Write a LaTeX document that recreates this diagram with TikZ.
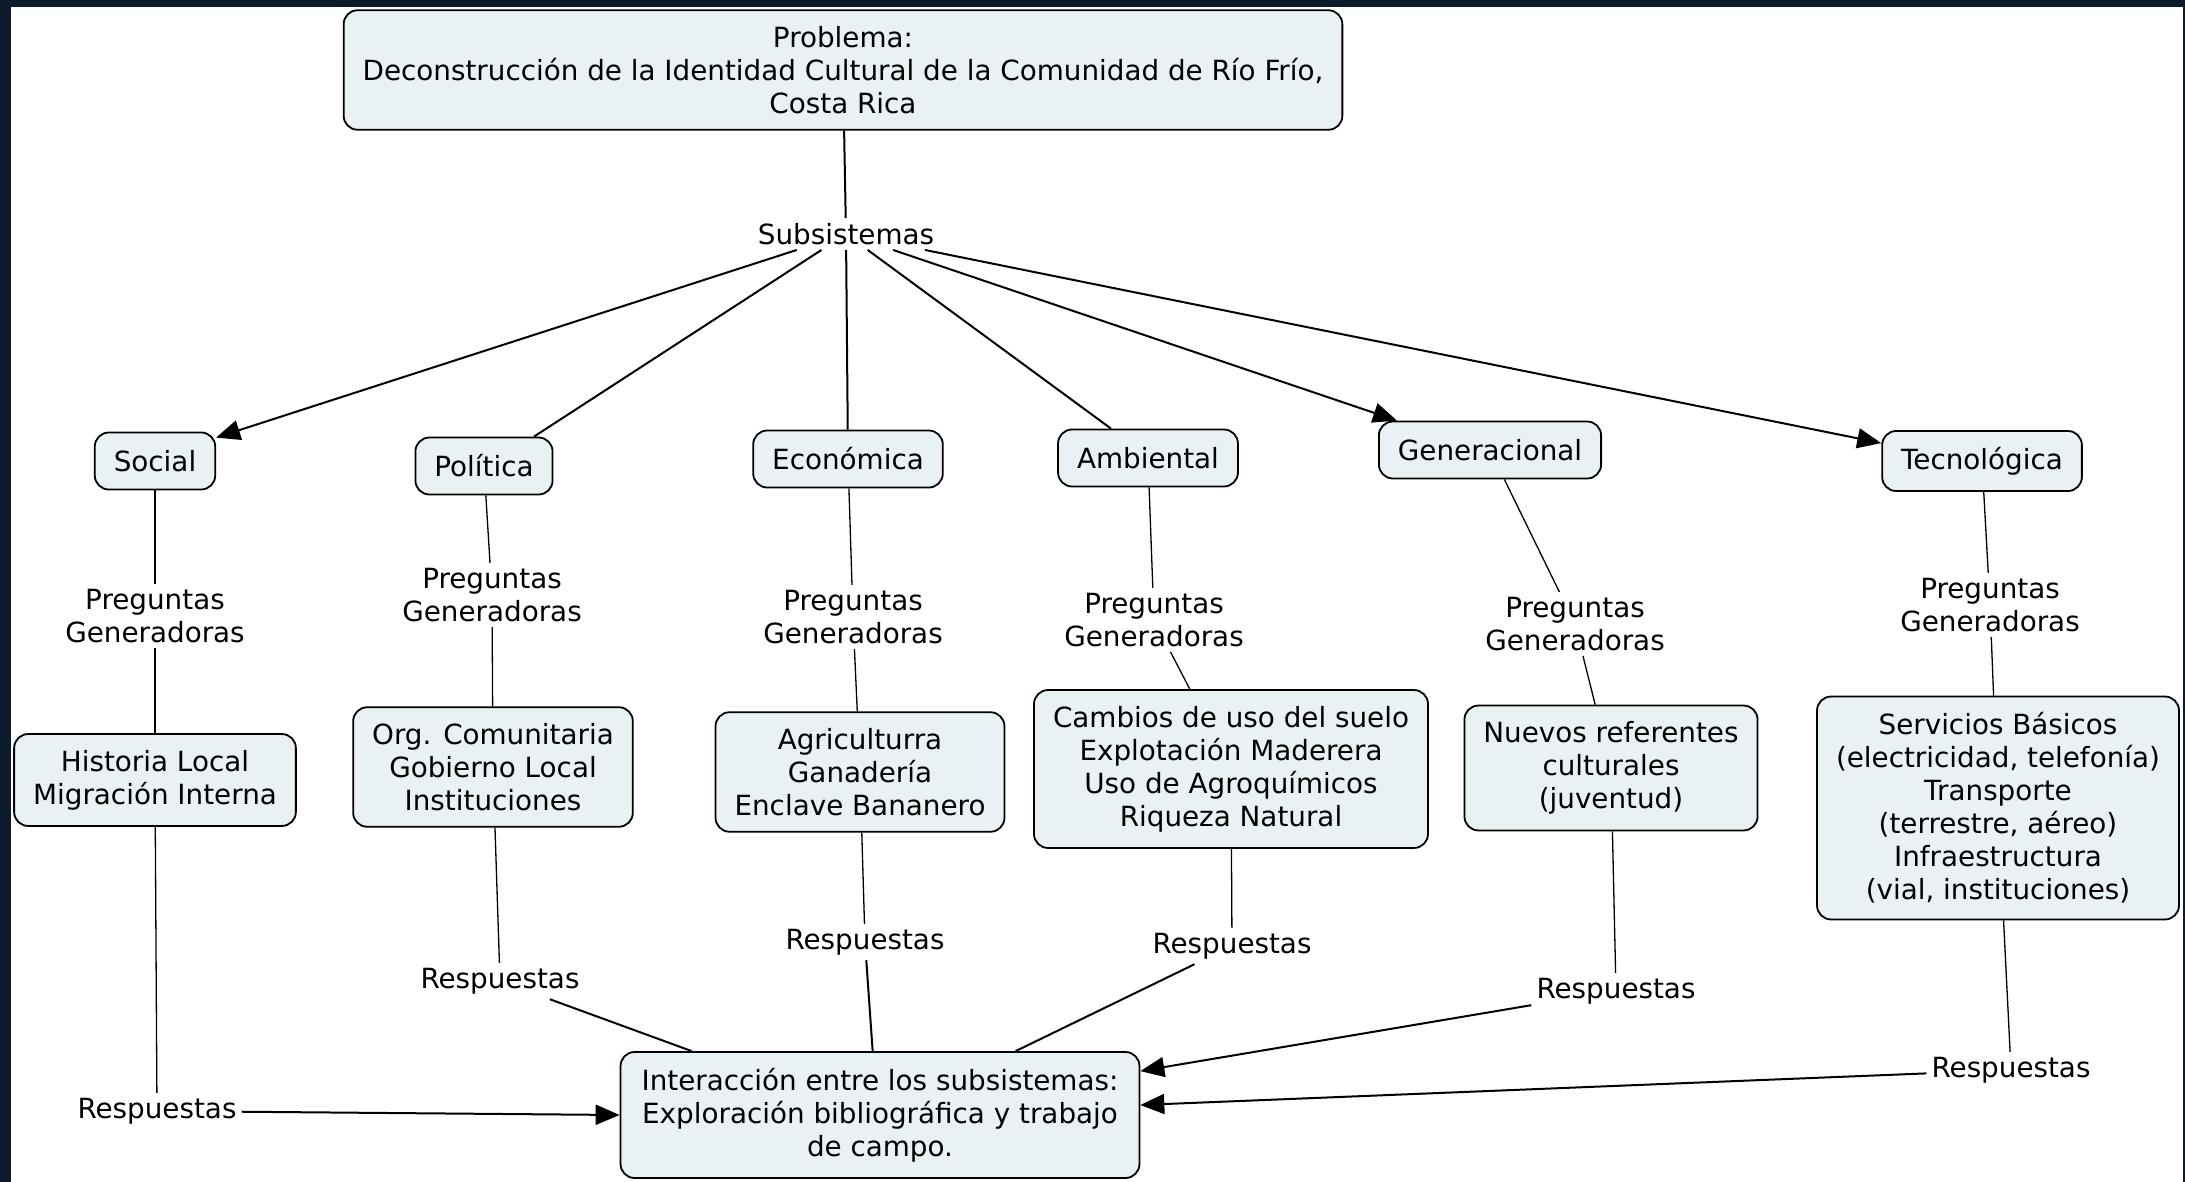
\documentclass[tikz,border=0pt]{standalone}
\usepackage{fontspec}
\setmainfont{DejaVu Sans}
\usetikzlibrary{arrows.meta}
\definecolor{mapbg}{HTML}{0B1B2C}
\definecolor{conceptfill}{HTML}{EAF1F4}

\begin{document}
\begin{tikzpicture}[x=1pt,y=1pt,>={Triangle[length=24pt,width=20pt]}]
\tikzstyle{every node}+=[font=\fontsize{27.8}{33}\selectfont]
\tikzstyle{concept}=[draw,line width=1.8pt,rounded corners=14pt,fill=conceptfill,align=center,inner xsep=19pt,inner ysep=16pt,minimum height=57pt]
\tikzstyle{phrase}=[align=center,inner sep=5pt]
\tikzstyle{link}=[line width=1.3pt]
\tikzstyle{bold link}=[line width=2pt]
\fill [mapbg] (0,0) rectangle (2185,-1182);
\fill [white] (11,-7) rectangle (2183,-1182);
\useasboundingbox (0,0) rectangle (2185,-1182);
\node [concept] (prob) at (843,-70) {Problema:\\Deconstrucción de la Identidad Cultural de la Comunidad de Río Frío,\\Costa Rica};
\node [phrase] (sub) at (846,-234) {Subsistemas};
\node [concept] (soc) at (155,-461) {Social};
\node [concept] (pol) at (484,-466) {Política};
\node [concept] (eco) at (848,-459) {Económica};
\node [concept] (amb) at (1148,-458) {Ambiental};
\node [concept] (gen) at (1490,-450) {Generacional};
\node [concept] (tec) at (1982,-461) {Tecnológica};
\node [phrase] (pg1) at (155,-616) {Preguntas\\Generadoras};
\node [phrase] (pg2) at (492,-595) {Preguntas\\Generadoras};
\node [phrase] (pg3) at (853,-617) {Preguntas\\Generadoras};
\node [phrase] (pg4) at (1154,-620) {Preguntas\\Generadoras};
\node [phrase] (pg5) at (1575,-624) {Preguntas\\Generadoras};
\node [phrase] (pg6) at (1990,-605) {Preguntas\\Generadoras};
\node [concept] (his) at (155,-780) {Historia Local\\Migración Interna};
\node [concept] (org) at (493,-767) {Org. Comunitaria\\Gobierno Local\\Instituciones};
\node [concept] (agr) at (860,-772) {Agriculturra\\Ganadería\\Enclave Bananero};
\node [concept] (cam) at (1231,-769) {Cambios de uso del suelo\\Explotación Maderera\\Uso de Agroquímicos\\Riqueza Natural};
\node [concept] (nue) at (1611,-768) {Nuevos referentes\\culturales\\(juventud)};
\node [concept] (ser) at (1998,-808) {Servicios Básicos\\(electricidad, telefonía)\\Transporte\\(terrestre, aéreo)\\Infraestructura\\(vial, instituciones)};
\node [phrase] (r1) at (157,-1111) {Respuestas};
\node [phrase] (r2) at (500,-981) {Respuestas};
\node [phrase] (r3) at (865,-942) {Respuestas};
\node [phrase] (r4) at (1232,-946) {Respuestas};
\node [phrase] (r5) at (1616,-991) {Respuestas};
\node [phrase] (r6) at (2011,-1070) {Respuestas};
\node [concept,inner xsep=21pt] (inter) at (880,-1115) {Interacción entre los subsistemas:\\Exploración bibliográfica y trabajo\\de campo.};
\draw [bold link] (prob) -- (sub);
\draw [bold link,->] (sub) -- ([yshift=-6pt]soc.north east);
\draw [bold link] (sub) -- ([xshift=50pt]pol.north);
\draw [bold link] (sub) -- (eco);
\draw [bold link] (sub) -- ([xshift=-37pt]amb.north);
\draw [bold link,->] (sub) -- ([xshift=19pt]gen.north west);
\draw [bold link,->] (sub) -- ([yshift=-13pt]tec.north west);
\draw [link] (soc) -- (pg1);
\draw [link] (pg1) -- (his);
\draw [link] (his) -- (r1);
\draw [link] (pol) -- (pg2);
\draw [link] (pg2) -- (org);
\draw [link] (org) -- (r2);
\draw [link] (eco) -- (pg3);
\draw [link] (pg3) -- (agr);
\draw [link] (agr) -- (r3);
\draw [link] (amb) -- (pg4);
\draw [link] (pg4) -- (cam);
\draw [link] (cam) -- (r4);
\draw [link] (gen) -- (pg5);
\draw [link] (pg5) -- (nue);
\draw [link] (nue) -- (r5);
\draw [link] (tec) -- (pg6);
\draw [link] (pg6) -- (ser);
\draw [link] (ser) -- (r6);
\draw [bold link,->] (r1) -- (inter.west);
\draw [bold link] (r2) -- ([xshift=72pt]inter.north west);
\draw [bold link] (r3) -- ([xshift=253pt]inter.north west);
\draw [bold link] (r4) -- ([xshift=396pt]inter.north west);
\draw [bold link,->] (r5) -- ([yshift=-20pt]inter.north east);
\draw [bold link,->] (r6) -- ([yshift=10pt]inter.east);
\end{tikzpicture}
\end{document}
